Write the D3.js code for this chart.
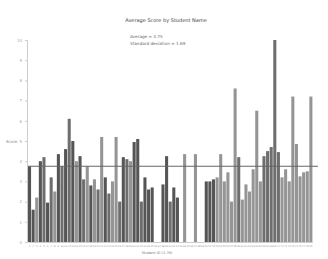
<!DOCTYPE html>
<html>
<head>
<meta charset="utf-8">
<script src="https://cdn.jsdelivr.net/npm/d3@7"></script>
<style>
  body { margin: 0; background: #fff; }
  text { font-family: "DejaVu Sans", sans-serif; }
</style>
</head>
<body>
<svg id="chart"></svg>
<script>
// scores per student (0 = no bar)
const scores = [
    3.75, 1.6, 2.2, 4.0, 4.2, 1.95, 3.2, 2.5, 4.35, 3.75,
    4.6, 6.1, 5.0, 4.0, 4.25, 3.1, 3.75, 2.8, 3.1, 2.6,
    5.2, 3.2, 2.4, 3.0, 5.2, 2.0, 4.2, 4.1, 4.0, 4.95,
    5.1, 2.0, 3.2, 2.6, 2.7, 0, 0, 2.85, 4.25, 2.0,
    2.7, 2.2, 0, 4.35, 0, 0, 4.35, 0, 0, 3.0,
    3.0, 3.1, 3.2, 4.35, 3.0, 3.45, 2.0, 7.6, 4.2, 2.1,
    2.85, 2.5, 3.6, 6.5, 3.0, 4.25, 4.5, 4.7, 10.0, 4.45,
    3.2, 3.6, 3.0, 7.2, 4.85, 3.25, 3.45, 3.5, 7.2
];
// class of each student
const classes = [
    'A', 'A', 'C', 'A', 'B', 'A', 'B', 'C', 'A', 'B',
    'A', 'B', 'A', 'C', 'A', 'B', 'C', 'A', 'C', 'B',
    'C', 'A', 'B', 'C', 'C', 'B', 'A', 'B', 'C', 'A',
    'A', 'B', 'A', 'A', 'A', 'C', 'C', 'A', 'A', 'B',
    'A', 'A', 'C', 'C', 'C', 'C', 'C', 'C', 'C', 'A',
    'A', 'A', 'C', 'C', 'C', 'C', 'C', 'C', 'B', 'C',
    'C', 'C', 'C', 'C', 'C', 'B', 'B', 'B', 'B', 'B',
    'C', 'C', 'C', 'C', 'C', 'C', 'C', 'C', 'C'
];
const ids = scores.map((d, i) => String(i + 1));
const yticks = [0, 1, 2, 3, 4, 5, 6, 7, 8, 9, 10];
const title = 'Average Score by Student Name';
const subtitle = ['Average = 3.75', 'Standard deviation = 1.69'];
const ylabel = 'Score';
const xlabel = 'Student ID (1-79)';
const average = 3.75;

const width = 328, height = 259;
const margin = {top: 40, right: 10, bottom: 17, left: 28};

const svg = d3.select('#chart')
    .attr('width', width)
    .attr('height', height);

const xscale = d3.scaleBand()
    .domain(ids)
    .range([margin.left, 312.4])
    .paddingInner(0.15);

const yscale = d3.scaleLinear()
    .domain([0, 10])
    .range([height - margin.bottom, margin.top]);

const color = d3.scaleOrdinal()
    .domain(['A', 'B', 'C'])
    .range(['#555', '#6e6e6e', '#959595']);

// bars
svg.append('g')
    .selectAll('rect')
    .data(scores.map((v, i) => ({id: ids[i], v: v, c: classes[i]})))
    .join('rect')
    .attr('x', d => xscale(d.id))
    .attr('y', d => yscale(d.v))
    .attr('width', xscale.bandwidth())
    .attr('height', d => yscale(0) - yscale(d.v))
    .attr('fill', d => color(d.c));

// average line
svg.append('line')
    .attr('x1', margin.left)
    .attr('x2', width - margin.right)
    .attr('y1', yscale(average))
    .attr('y2', yscale(average))
    .attr('stroke', '#666')
    .attr('stroke-width', 1.2);

// y axis
const yaxis = d3.axisLeft(yscale)
    .tickValues(yticks)
    .tickSize(2);
const yg = svg.append('g')
    .attr('transform', `translate(${margin.left - 1}, 0)`)
    .call(yaxis);
yg.select('.domain').attr('stroke', '#ccc');
yg.selectAll('.tick line').attr('stroke', '#ccc');
yg.selectAll('.tick text').attr('font-size', 4).attr('fill', '#aaa');

// x axis
const xaxis = d3.axisBottom(xscale).tickSize(0);
const xg = svg.append('g')
    .attr('transform', `translate(0, ${yscale(0)})`)
    .call(xaxis);
xg.select('.domain').attr('stroke', '#ccc');
xg.selectAll('.tick text')
    .attr('font-size', 2.5)
    .attr('fill', '#999')
    .attr('dy', '0.9em');

// titles
svg.append('text')
    .attr('x', 166).attr('y', 22)
    .attr('text-anchor', 'middle')
    .attr('font-size', 5)
    .attr('fill', '#444')
    .text(title);

svg.selectAll('.sub')
    .data(subtitle)
    .join('text')
    .attr('class', 'sub')
    .attr('x', 130)
    .attr('y', (d, i) => 38 + i * 7)
    .attr('font-size', 4.2)
    .attr('fill', '#666')
    .text(d => d);

svg.append('text')
    .attr('transform', 'translate(6, 143)')
    .attr('font-size', 4)
    .attr('fill', '#888')
    .text(ylabel);

svg.append('text')
    .attr('x', 157).attr('y', 254)
    .attr('text-anchor', 'middle')
    .attr('font-size', 3.5)
    .attr('fill', '#777')
    .text(xlabel);
</script>
</body>
</html>
